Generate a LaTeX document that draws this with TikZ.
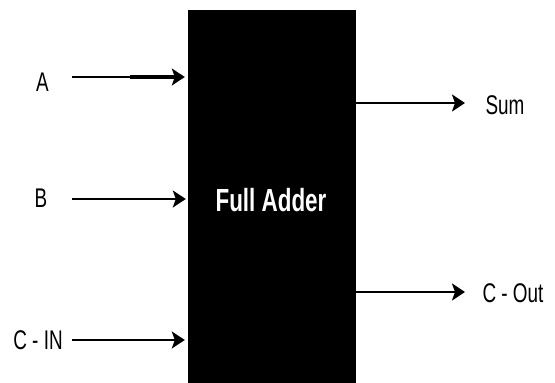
\documentclass[tikz,border=0pt]{standalone}
\usepackage{fontspec}
\setmainfont{Liberation Sans}
\newfontfamily\lblfont[FakeStretch=0.7]{Liberation Sans}
\usetikzlibrary{arrows.meta}
\begin{document}
\begin{tikzpicture}[x=1pt,y=1pt,
  lbl/.style={inner sep=0pt,anchor=base,font=\lblfont\fontsize{27}{27}\selectfont},
  sig/.style={line width=2pt,-{Stealth[length=13pt,width=17pt,inset=3pt]}},
  block/.style={fill=black,draw=black,minimum width=167pt,minimum height=373pt,inner sep=0pt}]
\useasboundingbox (0,0) rectangle (555,383);
\node[block] (fa) at (271.5,186.5) {};
\node[inner sep=0pt,anchor=base,text=white,font=\lblfont\bfseries\fontsize{32}{32}\selectfont] (fatext) at (271,171) {Full Adder};
% labels
\node[lbl] (A) at (42.5,291) {A};
\node[lbl] (B) at (41,175) {B};
\node[lbl] (CIN) at (38,33) {C - IN};
\node[lbl] (S) at (505,268) {Sum};
\node[lbl] (COUT) at (513,80) {C - Out};
% connector ends
\coordinate (a0) at (72,306);
\coordinate (b0) at (72,184);
\coordinate (c0) at (72,43);
\coordinate (s1) at (465,280);
\coordinate (o1) at (465,91);
\draw[sig,shorten >=3pt] (a0) -- (a0 -| fa.west);
\draw[line width=3.8pt] (130,306) -- (178,306);
\draw[sig,shorten >=2pt] (b0) -- (b0 -| fa.west);
\draw[sig,shorten >=3pt] (c0) -- (c0 -| fa.west);
\draw[sig] (s1 -| fa.east) -- (s1);
\draw[sig] (o1 -| fa.east) -- (o1);
\end{tikzpicture}
\end{document}
